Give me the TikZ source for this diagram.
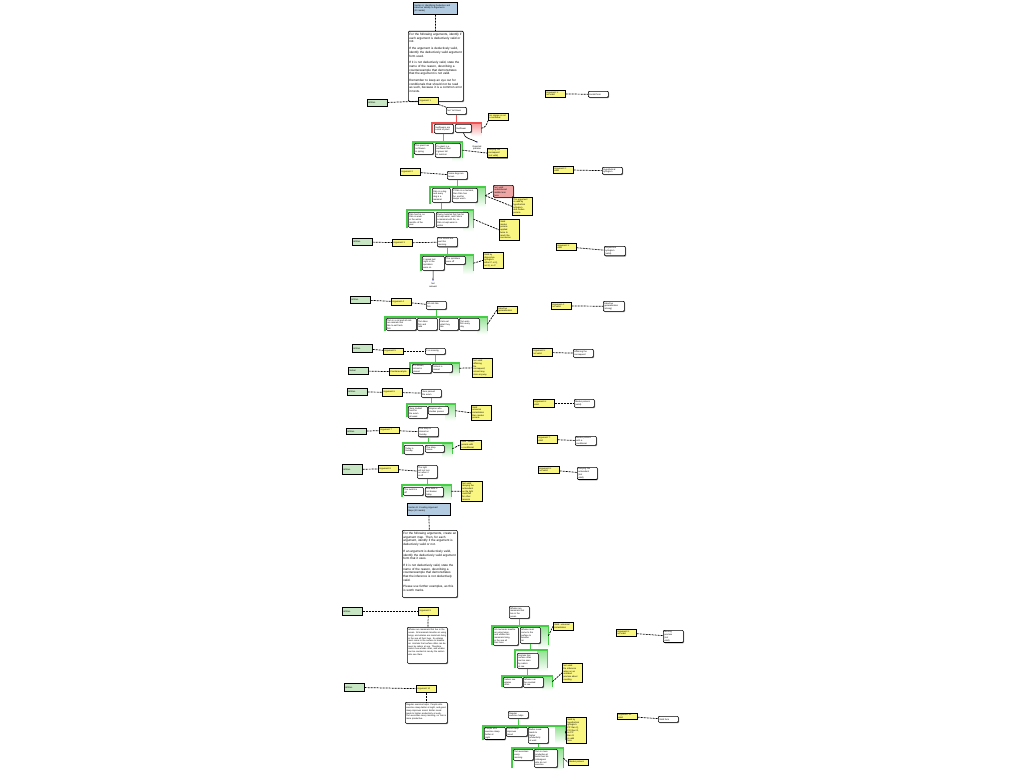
\documentclass[tikz,border=0pt]{standalone}
\usepackage{fontspec}
\setmainfont{Liberation Sans}
\usetikzlibrary{shapes.misc,shadows}
\definecolor{ylw}{RGB}{250,246,130}
\definecolor{grnf}{RGB}{200,230,195}
\definecolor{blu}{RGB}{178,203,224}
\definecolor{pnk}{RGB}{240,165,165}
\definecolor{gln}{RGB}{70,205,70}
\definecolor{rln}{RGB}{240,80,80}
\newcommand\fs{\fontsize{2.2}{2.7}\selectfont}
\newcommand\fb{\fontsize{3.05}{3.7}\selectfont}
\newcommand\tp[2]{\parbox[c][#1pt][t]{\linewidth}{\raggedright #2}}
\newcommand\nd[6]{\node[#1,sz={#4}{#5},anchor=north west] (#2) at (#3) {#6};}
\newcommand\gfr[2]{\shade[top color=#2!60,bottom color=white] ([xshift=-10pt]#1.north east) rectangle ([yshift=-3pt]#1.south east);\draw[#2,line width=1.1pt] (#1.south west) -- (#1.north west) -- (#1.north east) -- (#1.south east);}
\tikzset{
 sz/.code 2 args={\pgfmathsetmacro\mytw{#1-2}\tikzset{minimum width=#1pt,minimum height=#2pt,text width=\mytw pt}},
 base/.style={draw=black,line width=0.7pt,inner sep=1pt,font=\fs,align=left,
   drop shadow={shadow xshift=0.8pt,shadow yshift=-0.8pt,fill=black!55,opacity=0.8}},
 wbox/.style={base,fill=white,rounded corners=1pt},
 bbig/.style={base,fill=white,rounded corners=1pt,font=\fb},
 ybox/.style={base,fill=ylw},
 gbox/.style={base,fill=grnf},
 blbox/.style={base,fill=blu},
 pbox/.style={base,fill=pnk,rounded corners=1pt},
 grpn/.style={inner sep=0pt,draw=none},
 dsh/.style={draw=black,line width=0.7pt,dash pattern=on 2pt off 1pt},
 gcon/.style={draw=gln,line width=1.1pt},
 rcon/.style={draw=rln,line width=1.1pt},
 thin/.style={draw=black,line width=0.6pt},
 lbl/.style={font=\fs,align=center,inner sep=0pt}
}
\begin{document}
\begin{tikzpicture}[x=1pt,y=-1pt]
\useasboundingbox (0,0) rectangle (1024,768);
\fill[white] (0,0) rectangle (1024,768);
% ---------- groups ----------
\nd{grpn}{r1}{432,123}{49}{10}{}
\nd{grpn}{g1}{413,142}{49}{16}{}
\nd{grpn}{g2}{430,187}{55}{17}{}
\nd{grpn}{g2b}{407,210}{66}{18}{}
\nd{grpn}{g3}{421,255}{52}{16}{}
\nd{grpn}{g4}{385,317}{102}{14}{}
\nd{grpn}{g5}{410,363}{49}{10}{}
\nd{grpn}{g6}{407,404}{48}{13}{}
\nd{grpn}{g7}{403,443}{49}{11}{}
\nd{grpn}{g8}{402,485}{49}{12}{}
\nd{grpn}{g9}{492,626}{56}{19}{}
\nd{grpn}{g9b}{515,650}{32}{18}{}
\nd{grpn}{g9c}{502,676}{50}{11}{}
\nd{grpn}{g10}{483,726}{82}{14}{}
\nd{grpn}{g10b}{512,748}{51}{20}{}
\gfr{r1}{rln}
\foreach \g in {g1,g2,g2b,g3,g4,g5,g6,g7,g8,g9,g9b,g9c,g10,g10b}{\gfr{\g}{gln}}
% ---------- Section A ----------
\nd{blbox}{blueA}{413,2}{44}{12}{Section A: Identifying Deductive and\\ Inductive Validity in Arguments\\ (20 marks)}
\nd{bbig}{introA}{408,31}{55}{70}{\tp{66}{For the following arguments, identify if each argument is deductively valid or not.\\[3pt] If the argument is deductively valid, identify the deductively valid argument form used.\\[3pt] If it is not deductively valid, state the name of the reason, describing a counterexample that demonstrates that the argument is not valid.\\[3pt] Remember to keep an eye out for conditionals that should not be read as such, because it is a common error in tests.}}
% Argument 1
\nd{gbox}{gW1}{367,99}{20}{7}{Written}
\nd{ybox}{y1}{418,97}{20}{7}{Argument 1}
\nd{wbox}{w1}{446,107}{20}{7}{Not Yet Given}
\nd{wbox}{n1a}{434,124}{19}{9}{Sunflowers are\\ a kind of plant}
\nd{wbox}{n1b}{455,124}{16}{8}{Sunflower}
\nd{wbox}{n1c}{414,143}{19}{11}{This plant has\\ no flowers\\ in spring}
\nd{wbox}{n1d}{435,143}{25}{14}{If a plant is a\\ sunflower then\\ it grows tall\\ in summer}
\nd{ybox}{yn1a}{488,113}{20}{7}{An orange is not\\ a sunflower}
\nd{ybox}{yn1b}{487,148}{20}{9}{Denying the\\ consequent\\ (not valid)}
\coordinate (mk1) at (477,142);
\node[lbl] (lb1) at (477,148) {Rejected\\ premise};
% Argument 2
\nd{ybox}{y2}{400,168}{20}{7}{Argument 2}
\nd{wbox}{w2}{447,171}{20}{8}{Some dogs are\\ brown}
\nd{wbox}{n2a}{432,188}{18}{14}{Fido is a dog\\ and every\\ dog is a\\ mammal}
\nd{wbox}{n2b}{452,188}{25}{14}{If Fido is a mammal,\\ then Fido has\\ fur, and fur\\ keeps warm}
\nd{pbox}{r2}{493,185}{20}{12}{Not valid:\\ undistributed\\ middle term\\ here}
\nd{ybox}{yn2}{512,197}{20}{18}{This argument\\ is valid by\\ hypothetical\\ syllogism\\ and modus\\ ponens}
\nd{wbox}{n2c}{408,212}{26}{15}{Fido has fur, so\\ Fido is warm\\ in the winter\\ months of the\\ year}
\nd{wbox}{n2d}{436,212}{32}{15}{Every mammal that has fur\\ is kept warm, and Fido is\\ a mammal with fur, so\\ Fido is kept warm in\\ winter}
\nd{ybox}{yn2b}{499,219}{20}{21}{Valid:\\ modus\\ ponens\\ applied\\ twice to\\ reach the\\ conclusion}
% Argument 3
\nd{gbox}{gW3}{352,238}{20}{7}{Written}
\nd{ybox}{y3}{392,239}{20}{7}{Argument 3}
\nd{wbox}{w3}{437,237}{20}{9}{The streets are\\ wet this\\ morning}
\nd{wbox}{n3a}{422,256}{22}{14}{It rained last\\ night or the\\ sprinklers\\ were on}
\nd{wbox}{n3b}{445,256}{20}{8}{The sprinklers\\ were off}
\nd{ybox}{yn3}{483,252}{20}{16}{Valid by\\ disjunctive\\ syllogism:\\ either P or Q,\\ not Q, so P}
\coordinate (mk3) at (433,280);
\node[lbl] (lb3) at (433,285.5) {Not\\ relevant};
% Argument 4
\nd{gbox}{gW4}{350,296}{20}{7}{Written}
\nd{ybox}{y4}{391,298}{20}{7}{Argument 4}
\nd{wbox}{w4}{426,301}{20}{8}{All cats like\\ fish}
\nd{wbox}{n4a}{386,318}{30}{12}{Tom is a cat and all cats\\ are animals that\\ like to eat fresh\\ fish}
\nd{wbox}{n4b}{417,318}{20}{12}{Tom likes\\ fish and\\ milk}
\nd{wbox}{n4c}{439,318}{19}{12}{Cats eat\\ what they\\ like}
\nd{wbox}{n4d}{459,318}{20}{12}{Tom eats\\ fish every\\ day}
\nd{ybox}{yn4}{497,306}{20}{7}{Inductive\\ generalisation}
% Argument 5
\nd{gbox}{gW5}{352,344}{20}{8}{Written}
\nd{ybox}{y5}{383,348}{20}{6}{Argument 5}
\nd{wbox}{w5}{425,348}{20}{6}{It is snowing}
\nd{wbox}{n5a}{412,364}{19}{9}{If it snows,\\ school is\\ closed}
\nd{wbox}{n5b}{432,364}{20}{8}{School is\\ closed}
\nd{ybox}{yn5}{472,358}{20}{19}{Not valid:\\ affirming\\ the\\ consequent;\\ school may\\ close anyway}
\nd{gbox}{gW5b}{348,367}{20}{7}{Verbal}
\nd{ybox}{y5b}{389,368}{20}{7}{Counterexample}
% Argument 6
\nd{gbox}{gW6}{347,388}{20}{7}{Written}
\nd{ybox}{y6}{382,388}{20}{8}{Argument 6}
\nd{wbox}{w6}{421,389}{20}{8}{Jane passed\\ the exam}
\nd{wbox}{n6a}{408,406}{19}{12}{Jane studied\\ hard for\\ the exam\\ all week}
\nd{wbox}{n6b}{428,406}{20}{8}{Anyone who\\ studies passes}
\nd{ybox}{yn6}{471,405}{20}{15}{Valid:\\ universal\\ instantiation\\ then modus\\ ponens}
% Argument 7
\nd{gbox}{gW7}{346,428}{20}{6}{Written}
\nd{ybox}{y7}{379,427}{20}{6}{Argument 7}
\nd{wbox}{w7}{418,427}{20}{9}{The shop is\\ closed on\\ Sunday}
\nd{wbox}{n7a}{404,445}{19}{9}{Today is\\ Sunday}
\nd{wbox}{n7b}{425,445}{19}{7}{The shop\\ closes}
\nd{ybox}{yn7}{460,440}{21}{9}{Valid: modus\\ ponens with\\ a conditional}
% Argument 8
\nd{gbox}{gW8}{342,464}{20}{10}{Written}
\nd{ybox}{y8}{378,465}{20}{7}{Argument 8}
\nd{wbox}{w8}{417,465}{20}{13}{The light\\ will not turn\\ on when it\\ is off}
\nd{wbox}{n8a}{403,487}{20}{8}{The switch is\\ off}
\nd{wbox}{n8b}{425,487}{18}{9}{The bulb is\\ not broken\\ today}
\nd{ybox}{yn8}{461,481}{21}{20}{Not valid:\\ denying the\\ antecedent\\ as the light\\ could fail\\ for other\\ reasons}
% right pairs
\nd{ybox}{pa1}{545,90}{20}{7}{Argument 1:\\ not valid}
\nd{wbox}{pb1}{588,91}{20}{6}{Invalid form}
\nd{ybox}{pa2}{553,166}{20}{7}{Argument 2:\\ valid}
\nd{wbox}{pb2}{602,167}{20}{7}{Hypothetical\\ syllogism}
\nd{ybox}{pa3}{556,243}{20}{7}{Argument 3:\\ valid}
\nd{wbox}{pb3}{604,246}{21}{9}{Disjunctive\\ syllogism\\ (valid)}
\nd{ybox}{pa4}{551,302}{20}{7}{Argument 4:\\ not valid}
\nd{wbox}{pb4}{603,301}{21}{10}{Inductive\\ generalisation\\ (strong)}
\nd{ybox}{pa5}{532,348}{20}{8}{Argument 5:\\ not valid}
\nd{wbox}{pb5}{573,349}{20}{8}{Affirming the\\ consequent}
\nd{ybox}{pa6}{533,399}{21}{8}{Argument 6:\\ valid}
\nd{wbox}{pb6}{574,399}{20}{8}{Modus ponens\\ (valid)}
\nd{ybox}{pa7}{537,435}{20}{8}{Argument 7:\\ valid}
\nd{wbox}{pb7}{575,436}{21}{9}{Modus ponens\\ with a\\ conditional}
\nd{ybox}{pa8}{538,466}{21}{7}{Argument 8:\\ not valid}
\nd{wbox}{pb8}{577,467}{20}{12}{Denying the\\ antecedent\\ (not\\ valid)}
% ---------- Section B ----------
\nd{blbox}{blueB}{407,503}{43}{12}{Section B: Creating Argument\\ Maps (20 marks)}
\nd{bbig}{introB}{402,530}{55}{67}{\tp{63}{For the following arguments, create an argument map. Then, for each argument, identify if the argument is deductively valid or not.\\[3pt] If an argument is deductively valid, identify the deductively valid argument form that it uses.\\[3pt] If it is not deductively valid, state the name of the reason, describing a counterexample that demonstrates that the inference is not deductively valid.\\[3pt] Please use further examples, as this is worth marks.}}
\nd{gbox}{gW9}{342,607}{20}{8}{Written}
\nd{ybox}{y9}{418,607}{20}{8}{Argument 9}
\nd{wbox}{t9}{407,627}{40}{36}{\tp{32}{Whales are mammals that live in the ocean. All mammals breathe air using lungs, and whales are mammals living in the sea all their lives. So whales must come to the surface to breathe air. Animals that surface often can be seen by sailors at sea. Therefore sailors see whales often, and whales can be counted at sea by the sailors who see them.}}
\nd{gbox}{gW10}{344,683}{20}{8}{Written}
\nd{ybox}{y10}{416,685}{20}{7}{Argument 10}
\nd{wbox}{t10}{405,702}{42}{21}{\tp{17}{Regular exercise helps. People who exercise sleep better at night, and good sleep improves mood. Better mood leads to higher productivity at work. Tom exercises every morning, so Tom is more productive.}}
% tree 9
\nd{wbox}{m9}{509,606}{20}{12}{Whales are\\ mammals that\\ live in the\\ ocean}
\nd{wbox}{m9a}{493,627}{25}{18}{All mammals breathe\\ air using lungs,\\ and whales are\\ mammals living\\ in the sea all\\ their lives}
\nd{wbox}{m9b}{520,627}{20}{16}{Whales must\\ come to the\\ surface to\\ breathe\\ air}
\nd{ybox}{yn9}{553,622}{20}{8}{Valid: universal\\ instantiation}
\nd{wbox}{m9c}{517,653}{21}{15}{Animals that\\ surface often\\ can be seen\\ by sailors\\ at sea}
\nd{wbox}{m9d}{503,677}{19}{10}{Sailors see\\ whales\\ often}
\nd{wbox}{m9e}{523,677}{20}{10}{Whales can\\ be counted\\ at sea}
\nd{ybox}{yn9b}{562,663}{20}{19}{Not valid:\\ the inference\\ relies on an\\ unstated\\ premise about\\ counting}
% tree 10
\nd{wbox}{m10}{508,711}{20}{7}{Regular\\ exercise helps}
\nd{wbox}{m10a}{484,727}{21}{12}{People who\\ exercise sleep\\ better at\\ night}
\nd{wbox}{m10b}{506,727}{21}{9}{Good sleep\\ improves\\ mood}
\nd{wbox}{m10c}{528,727}{20}{16}{Better mood\\ leads to\\ higher\\ productivity\\ at work}
\nd{ybox}{yn10}{566,717}{20}{26}{Valid by\\ hypothetical\\ syllogism:\\ if P then Q,\\ if Q then R,\\ so if P\\ then R\\ is valid\\ here}
\nd{wbox}{m10d}{513,749}{20}{11}{Tom exercises\\ every\\ morning}
\nd{wbox}{m10e}{534,749}{23}{18}{Tom is more\\ productive at\\ work than his\\ colleagues\\ who do not\\ exercise}
\nd{ybox}{yn10b}{568,759}{20}{6}{Modus ponens}
\nd{ybox}{pa9}{616,629}{20}{7}{Argument 9:\\ not valid}
\nd{wbox}{pb9}{663,630}{20}{12}{Missing\\ premise\\ (not\\ valid)}
\nd{ybox}{pa10}{617,713}{20}{6}{Argument 10:\\ valid}
\nd{wbox}{pb10}{658,716}{20}{6}{Valid form}
% ---------- connectors ----------
\draw[dsh] (blueA) -- (introA);
\draw[dsh] (gW1) -- (y1);
\draw[dsh] (y1) -- (w1);
\draw[rcon] (w1) -- (w1 |- r1.north);
\draw[gcon] (n1a) -- (n1a |- g1.north);
\draw[dsh] (r1.east) to[out=0,in=-110] (yn1a.south west);
\draw[dsh] (g1.east) -- (yn1b.west);
\draw[thin] (n1b.south) to[out=-80,in=150] (mk1);
\fill[blue] (mk1) circle (0.7);
\draw[dsh] (y2) -- (w2);
\draw[gcon] (w2) -- (w2 |- g2.north);
\draw[dsh] (g2.east) -- (r2.west);
\draw[dsh] (g2.east) -- (yn2.west);
\draw[gcon] (n2a) -- (n2a |- g2b.north);
\draw[dsh] (g2b.east) -- (yn2b.west);
\draw[dsh] (gW3) -- (y3);
\draw[dsh] (y3) -- (w3);
\draw[gcon] (w3) -- (w3 |- g3.north);
\draw[dsh] (g3.east) -- (yn3.west);
\draw[thin] (n3a) -- (mk3);
\fill[blue] (mk3) circle (0.7);
\draw[dsh] (gW4) -- (y4);
\draw[dsh] (y4) -- (w4);
\draw[gcon] (w4) -- (w4 |- g4.north);
\draw[dsh] (g4.east) -- (yn4.west);
\draw[dsh] (gW5) -- (y5);
\draw[dsh] (y5) -- (w5);
\draw[gcon] (w5) -- (w5 |- g5.north);
\draw[dsh] (g5.east) -- (yn5.west);
\draw[dsh] (gW5b) -- (y5b);
\draw[dsh] (gW6) -- (y6);
\draw[dsh] (y6) -- (w6);
\draw[gcon] (w6) -- (w6 |- g6.north);
\draw[dsh] (g6.east) -- (yn6.west);
\draw[dsh] (gW7) -- (y7);
\draw[dsh] (y7) -- (w7);
\draw[gcon] (w7) -- (w7 |- g7.north);
\draw[dsh] (g7.east) -- (yn7.west);
\draw[dsh] (gW8) -- (y8);
\draw[dsh] (y8) -- (w8);
\draw[gcon] (w8) -- (w8 |- g8.north);
\draw[dsh] (g8.east) -- (yn8.west);
\foreach \i in {1,...,10}{\draw[dsh] (pa\i) -- (pb\i);}
\draw[dsh] (blueB) -- (introB);
\draw[dsh] (gW9) -- (y9);
\draw[dsh] (y9) -- (t9);
\draw[dsh] (gW10) -- (y10);
\draw[dsh] (y10) -- (t10);
\draw[gcon] (m9) -- (m9 |- g9.north);
\draw[gcon] (m9b) -- (m9b |- g9b.north);
\draw[gcon] (m9c) -- (m9c |- g9c.north);
\draw[dsh] (g9.east) -- (yn9.west);
\draw[dsh] (g9c.east) -- (yn9b.west);
\draw[gcon] (m10) -- (m10 |- g10.north);
\draw[gcon] (m10c) -- (m10c |- g10b.north);
\draw[dsh] (g10.east) -- (yn10.west);
\draw[dsh] (g10b.east) -- (yn10b.west);
\end{tikzpicture}
\end{document}
